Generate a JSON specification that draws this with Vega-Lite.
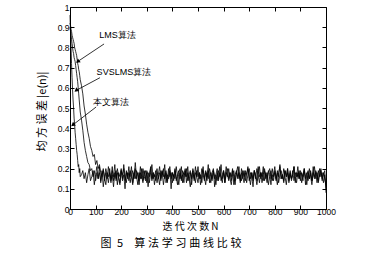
{
  "$schema": "https://vega.github.io/schema/vega-lite/v6.json",
  "width": 256,
  "height": 202,
  "autosize": "none",
  "padding": {"left": 70, "top": 7, "right": 46, "bottom": 45},
  "background": "white",
  "config": {
    "view": {"stroke": "black", "strokeWidth": 1},
    "axis": {
      "grid": false,
      "domainColor": "black",
      "tickColor": "black",
      "labelColor": "black",
      "labelFont": "Liberation Sans",
      "labelFontSize": 8.5,
      "labelOverlap": false,
      "labelFlush": false,
      "titleColor": "black",
      "titleFont": "Noto Sans CJK SC",
      "titleFontSize": 10,
      "titleFontWeight": "normal",
      "tickSize": -4
    }
  },
  "title": {
    "text": "图\u20025\u2003算\u2005法\u2005学\u2005习\u2005曲\u2005线\u2005比\u2005较",
    "orient": "bottom",
    "anchor": "middle",
    "font": "Noto Sans CJK SC",
    "fontSize": 11,
    "fontWeight": "normal",
    "color": "black",
    "offset": 7,
    "dx": -27
  },
  "datasets": {
    "curves": [
      {"n":0,"a":0.92,"b":0.90,"c":0.96},
      {"n":2,"a":0.91,"b":0.88,"c":0.88},
      {"n":4,"a":0.89,"b":0.86,"c":0.80},
      {"n":6,"a":0.88,"b":0.84,"c":0.72},
      {"n":8,"a":0.86,"b":0.82,"c":0.65},
      {"n":10,"a":0.85,"b":0.80,"c":0.59},
      {"n":12,"a":0.84,"b":0.78,"c":0.54},
      {"n":14,"a":0.83,"b":0.77,"c":0.50},
      {"n":16,"a":0.82,"b":0.75,"c":0.45},
      {"n":18,"a":0.80,"b":0.74,"c":0.42},
      {"n":20,"a":0.79,"b":0.73,"c":0.38},
      {"n":22,"a":0.78,"b":0.71,"c":0.35},
      {"n":24,"a":0.77,"b":0.69,"c":0.32},
      {"n":26,"a":0.76,"b":0.67,"c":0.29},
      {"n":28,"a":0.74,"b":0.65,"c":0.27},
      {"n":30,"a":0.72,"b":0.63,"c":0.24},
      {"n":32,"a":0.71,"b":0.60,"c":0.21},
      {"n":34,"a":0.69,"b":0.57,"c":0.22},
      {"n":36,"a":0.68,"b":0.54,"c":0.18},
      {"n":38,"a":0.66,"b":0.51,"c":0.20},
      {"n":40,"a":0.64,"b":0.48,"c":0.16},
      {"n":45,"a":0.61,"b":0.44,"c":0.17},
      {"n":50,"a":0.57,"b":0.39,"c":0.19},
      {"n":55,"a":0.51,"b":0.33,"c":0.15},
      {"n":60,"a":0.47,"b":0.29,"c":0.18},
      {"n":65,"a":0.42,"b":0.26,"c":0.13},
      {"n":70,"a":0.38,"b":0.23,"c":0.17},
      {"n":75,"a":0.35,"b":0.22,"c":0.20},
      {"n":80,"a":0.31,"b":0.19,"c":0.14},
      {"n":85,"a":0.29,"b":0.20,"c":0.16},
      {"n":90,"a":0.26,"b":0.16,"c":0.19},
      {"n":95,"a":0.27,"b":0.19,"c":0.12},
      {"n":100,"a":0.22,"b":0.14,"c":0.17},
      {"n":105,"a":0.24,"b":0.18,"c":0.21},
      {"n":110,"a":0.20,"b":0.15,"c":0.15},
      {"n":115,"a":0.22,"b":0.21,"c":0.18},
      {"n":120,"a":0.18,"b":0.13,"c":0.14},
      {"n":125,"a":0.16,"b":0.17,"c":0.19},
      {"n":130,"a":0.20,"b":0.19,"c":0.11},
      {"n":135,"a":0.14,"b":0.15,"c":0.16},
      {"n":140,"a":0.18,"b":0.12,"c":0.20},
      {"n":145,"a":0.15,"b":0.18,"c":0.17},
      {"n":150,"a":0.21,"b":0.16,"c":0.13},
      {"n":155,"a":0.17,"b":0.20,"c":0.18},
      {"n":160,"a":0.13,"b":0.14,"c":0.15},
      {"n":165,"a":0.19,"b":0.17,"c":0.21},
      {"n":170,"a":0.16,"b":0.11,"c":0.14},
      {"n":175,"a":0.22,"b":0.18,"c":0.17},
      {"n":180,"a":0.14,"b":0.15,"c":0.19},
      {"n":185,"a":0.18,"b":0.20,"c":0.12},
      {"n":190,"a":0.15,"b":0.16,"c":0.18},
      {"n":195,"a":0.12,"b":0.13,"c":0.16},
      {"n":200,"a":0.19,"b":0.19,"c":0.20},
      {"n":205,"a":0.17,"b":0.15,"c":0.14},
      {"n":210,"a":0.20,"b":0.22,"c":0.17},
      {"n":215,"a":0.14,"b":0.16,"c":0.10},
      {"n":220,"a":0.18,"b":0.13,"c":0.19},
      {"n":225,"a":0.16,"b":0.18,"c":0.15},
      {"n":230,"a":0.21,"b":0.14,"c":0.18},
      {"n":235,"a":0.13,"b":0.19,"c":0.16},
      {"n":240,"a":0.17,"b":0.16,"c":0.21},
      {"n":245,"a":0.19,"b":0.12,"c":0.13},
      {"n":250,"a":0.15,"b":0.17,"c":0.18},
      {"n":255,"a":0.23,"b":0.20,"c":0.15},
      {"n":260,"a":0.16,"b":0.15,"c":0.19},
      {"n":265,"a":0.12,"b":0.18,"c":0.17},
      {"n":270,"a":0.18,"b":0.14,"c":0.12},
      {"n":275,"a":0.15,"b":0.21,"c":0.18},
      {"n":280,"a":0.20,"b":0.16,"c":0.15},
      {"n":285,"a":0.14,"b":0.13,"c":0.20},
      {"n":290,"a":0.17,"b":0.19,"c":0.16},
      {"n":295,"a":0.19,"b":0.15,"c":0.14},
      {"n":300,"a":0.13,"b":0.18,"c":0.19},
      {"n":305,"a":0.18,"b":0.11,"c":0.17},
      {"n":310,"a":0.16,"b":0.17,"c":0.13},
      {"n":315,"a":0.21,"b":0.20,"c":0.18},
      {"n":320,"a":0.15,"b":0.14,"c":0.22},
      {"n":325,"a":0.18,"b":0.18,"c":0.15},
      {"n":330,"a":0.12,"b":0.16,"c":0.17},
      {"n":335,"a":0.17,"b":0.19,"c":0.14},
      {"n":340,"a":0.20,"b":0.13,"c":0.18},
      {"n":345,"a":0.15,"b":0.17,"c":0.16},
      {"n":350,"a":0.18,"b":0.21,"c":0.12},
      {"n":355,"a":0.14,"b":0.15,"c":0.19},
      {"n":360,"a":0.19,"b":0.18,"c":0.17},
      {"n":365,"a":0.16,"b":0.12,"c":0.20},
      {"n":370,"a":0.22,"b":0.17,"c":0.15},
      {"n":375,"a":0.13,"b":0.19,"c":0.18},
      {"n":380,"a":0.17,"b":0.14,"c":0.13},
      {"n":385,"a":0.15,"b":0.20,"c":0.17},
      {"n":390,"a":0.19,"b":0.16,"c":0.21},
      {"n":395,"a":0.10,"b":0.18,"c":0.15},
      {"n":400,"a":0.18,"b":0.13,"c":0.18},
      {"n":405,"a":0.16,"b":0.17,"c":0.14},
      {"n":410,"a":0.20,"b":0.15,"c":0.19},
      {"n":415,"a":0.14,"b":0.21,"c":0.16},
      {"n":420,"a":0.17,"b":0.16,"c":0.12},
      {"n":425,"a":0.19,"b":0.12,"c":0.18},
      {"n":430,"a":0.15,"b":0.18,"c":0.20},
      {"n":435,"a":0.21,"b":0.14,"c":0.15},
      {"n":440,"a":0.13,"b":0.19,"c":0.17},
      {"n":445,"a":0.18,"b":0.17,"c":0.13},
      {"n":450,"a":0.16,"b":0.20,"c":0.19},
      {"n":455,"a":0.20,"b":0.13,"c":0.16},
      {"n":460,"a":0.14,"b":0.18,"c":0.21},
      {"n":465,"a":0.17,"b":0.15,"c":0.14},
      {"n":470,"a":0.19,"b":0.11,"c":0.18},
      {"n":475,"a":0.12,"b":0.17,"c":0.15},
      {"n":480,"a":0.18,"b":0.19,"c":0.20},
      {"n":485,"a":0.15,"b":0.14,"c":0.17},
      {"n":490,"a":0.21,"b":0.18,"c":0.13},
      {"n":495,"a":0.16,"b":0.16,"c":0.19},
      {"n":500,"a":0.13,"b":0.21,"c":0.16},
      {"n":505,"a":0.18,"b":0.15,"c":0.18},
      {"n":510,"a":0.15,"b":0.17,"c":0.12},
      {"n":515,"a":0.20,"b":0.13,"c":0.17},
      {"n":520,"a":0.17,"b":0.19,"c":0.21},
      {"n":525,"a":0.14,"b":0.16,"c":0.15},
      {"n":530,"a":0.19,"b":0.12,"c":0.18},
      {"n":535,"a":0.16,"b":0.18,"c":0.14},
      {"n":540,"a":0.22,"b":0.15,"c":0.19},
      {"n":545,"a":0.13,"b":0.20,"c":0.16},
      {"n":550,"a":0.18,"b":0.17,"c":0.13},
      {"n":555,"a":0.15,"b":0.14,"c":0.18},
      {"n":560,"a":0.19,"b":0.19,"c":0.20},
      {"n":565,"a":0.11,"b":0.16,"c":0.15},
      {"n":570,"a":0.17,"b":0.12,"c":0.17},
      {"n":575,"a":0.20,"b":0.18,"c":0.14},
      {"n":580,"a":0.14,"b":0.15,"c":0.19},
      {"n":585,"a":0.18,"b":0.21,"c":0.16},
      {"n":590,"a":0.16,"b":0.14,"c":0.22},
      {"n":595,"a":0.13,"b":0.17,"c":0.15},
      {"n":600,"a":0.19,"b":0.19,"c":0.18},
      {"n":605,"a":0.15,"b":0.13,"c":0.13},
      {"n":610,"a":0.21,"b":0.18,"c":0.17},
      {"n":615,"a":0.17,"b":0.16,"c":0.20},
      {"n":620,"a":0.14,"b":0.20,"c":0.15},
      {"n":625,"a":0.18,"b":0.15,"c":0.18},
      {"n":630,"a":0.16,"b":0.12,"c":0.14},
      {"n":635,"a":0.20,"b":0.17,"c":0.19},
      {"n":640,"a":0.12,"b":0.19,"c":0.16},
      {"n":645,"a":0.17,"b":0.14,"c":0.12},
      {"n":650,"a":0.19,"b":0.18,"c":0.18},
      {"n":655,"a":0.15,"b":0.16,"c":0.21},
      {"n":660,"a":0.18,"b":0.21,"c":0.15},
      {"n":665,"a":0.14,"b":0.13,"c":0.17},
      {"n":670,"a":0.20,"b":0.18,"c":0.14},
      {"n":675,"a":0.16,"b":0.15,"c":0.19},
      {"n":680,"a":0.13,"b":0.19,"c":0.16},
      {"n":685,"a":0.19,"b":0.14,"c":0.18},
      {"n":690,"a":0.17,"b":0.17,"c":0.13},
      {"n":695,"a":0.21,"b":0.20,"c":0.17},
      {"n":700,"a":0.14,"b":0.16,"c":0.20},
      {"n":705,"a":0.18,"b":0.12,"c":0.15},
      {"n":710,"a":0.16,"b":0.18,"c":0.18},
      {"n":715,"a":0.11,"b":0.15,"c":0.14},
      {"n":720,"a":0.19,"b":0.19,"c":0.19},
      {"n":725,"a":0.15,"b":0.17,"c":0.16},
      {"n":730,"a":0.20,"b":0.14,"c":0.12},
      {"n":735,"a":0.17,"b":0.21,"c":0.17},
      {"n":740,"a":0.13,"b":0.16,"c":0.21},
      {"n":745,"a":0.18,"b":0.18,"c":0.15},
      {"n":750,"a":0.16,"b":0.13,"c":0.18},
      {"n":755,"a":0.21,"b":0.17,"c":0.14},
      {"n":760,"a":0.14,"b":0.20,"c":0.19},
      {"n":765,"a":0.18,"b":0.15,"c":0.16},
      {"n":770,"a":0.15,"b":0.18,"c":0.13},
      {"n":775,"a":0.19,"b":0.12,"c":0.18},
      {"n":780,"a":0.17,"b":0.16,"c":0.20},
      {"n":785,"a":0.12,"b":0.19,"c":0.15},
      {"n":790,"a":0.20,"b":0.14,"c":0.17},
      {"n":795,"a":0.16,"b":0.17,"c":0.14},
      {"n":800,"a":0.18,"b":0.21,"c":0.19},
      {"n":805,"a":0.14,"b":0.15,"c":0.16},
      {"n":810,"a":0.19,"b":0.18,"c":0.12},
      {"n":815,"a":0.16,"b":0.13,"c":0.18},
      {"n":820,"a":0.22,"b":0.17,"c":0.21},
      {"n":825,"a":0.15,"b":0.19,"c":0.15},
      {"n":830,"a":0.17,"b":0.15,"c":0.17},
      {"n":835,"a":0.13,"b":0.20,"c":0.14},
      {"n":840,"a":0.19,"b":0.16,"c":0.19},
      {"n":845,"a":0.16,"b":0.12,"c":0.16},
      {"n":850,"a":0.20,"b":0.18,"c":0.20},
      {"n":855,"a":0.14,"b":0.15,"c":0.13},
      {"n":860,"a":0.18,"b":0.19,"c":0.17},
      {"n":865,"a":0.15,"b":0.14,"c":0.15},
      {"n":870,"a":0.17,"b":0.17,"c":0.19},
      {"n":875,"a":0.21,"b":0.21,"c":0.14},
      {"n":880,"a":0.13,"b":0.16,"c":0.18},
      {"n":885,"a":0.18,"b":0.13,"c":0.16},
      {"n":890,"a":0.16,"b":0.18,"c":0.21},
      {"n":895,"a":0.19,"b":0.15,"c":0.15},
      {"n":900,"a":0.14,"b":0.19,"c":0.18},
      {"n":905,"a":0.18,"b":0.17,"c":0.13},
      {"n":910,"a":0.16,"b":0.14,"c":0.17},
      {"n":915,"a":0.20,"b":0.20,"c":0.19},
      {"n":920,"a":0.12,"b":0.16,"c":0.15},
      {"n":925,"a":0.17,"b":0.12,"c":0.18},
      {"n":930,"a":0.19,"b":0.18,"c":0.14},
      {"n":935,"a":0.15,"b":0.15,"c":0.20},
      {"n":940,"a":0.18,"b":0.19,"c":0.16},
      {"n":945,"a":0.14,"b":0.14,"c":0.12},
      {"n":950,"a":0.21,"b":0.17,"c":0.18},
      {"n":955,"a":0.16,"b":0.21,"c":0.15},
      {"n":960,"a":0.18,"b":0.15,"c":0.19},
      {"n":965,"a":0.13,"b":0.18,"c":0.17},
      {"n":970,"a":0.19,"b":0.13,"c":0.14},
      {"n":975,"a":0.16,"b":0.17,"c":0.20},
      {"n":980,"a":0.20,"b":0.19,"c":0.16},
      {"n":985,"a":0.15,"b":0.14,"c":0.18},
      {"n":990,"a":0.17,"b":0.18,"c":0.13},
      {"n":995,"a":0.19,"b":0.15,"c":0.17},
      {"n":1000,"a":0.08,"b":0.12,"c":0.10}
    ],
    "notes": [
      {"label":"LMS算法","tx":114,"ty":0.86,"x1":133,"y1":0.817,"x2":30,"y2":0.73},
      {"label":"SVSLMS算法","tx":104,"ty":0.68,"x1":117,"y1":0.65,"x2":24,"y2":0.587},
      {"label":"本文算法","tx":91,"ty":0.53,"x1":102,"y1":0.505,"x2":11,"y2":0.416}
    ]
  },
  "resolve": {"axis": {"x": "independent", "y": "independent"}},
  "layer": [
    {
      "data": {"name": "curves"},
      "transform": [{"fold": ["a", "b", "c"], "as": ["series", "v"]}],
      "mark": {"type": "line", "color": "black", "strokeWidth": 0.8},
      "encoding": {
        "x": {"field": "n", "type": "quantitative", "scale": {"domain": [0, 1000], "nice": false},
              "axis": {"orient": "bottom", "values": [0,100,200,300,400,500,600,700,800,900,1000], "format": "d", "labelPadding": 2, "title": "迭 代 次 数 N", "titleX": 120, "titleY": 17, "titleBaseline": "middle", "titleAnchor": null}},
        "y": {"field": "v", "type": "quantitative", "scale": {"domain": [0, 1], "nice": false},
              "axis": {"orient": "left", "values": [0,0.1,0.2,0.3,0.4,0.5,0.6,0.7,0.8,0.9,1], "format": "~g", "labelPadding": 5, "title": "均 方 误 差 |e(n)|", "titleFontSize": 11, "titleX": -28, "titleY": 104, "titleBaseline": "middle", "titleAnchor": null}},
        "detail": {"field": "series"}
      }
    },
    {
      "data": {"name": "curves"},
      "mark": {"type": "point", "opacity": 0},
      "encoding": {
        "x": {"field": "n", "type": "quantitative", "axis": {"orient": "top", "values": [0,100,200,300,400,500,600,700,800,900,1000], "labels": false, "title": null, "domain": false}},
        "y": {"field": "a", "type": "quantitative", "axis": {"orient": "right", "values": [0,0.1,0.2,0.3,0.4,0.5,0.6,0.7,0.8,0.9,1], "labels": false, "title": null, "domain": false}}
      }
    },
    {
      "data": {"name": "notes"},
      "mark": {"type": "rule", "color": "black", "strokeWidth": 0.8},
      "encoding": {
        "x": {"field": "x1", "type": "quantitative", "axis": null},
        "y": {"field": "y1", "type": "quantitative", "axis": null},
        "x2": {"field": "x2"},
        "y2": {"field": "y2"}
      }
    },
    {
      "data": {"name": "notes"},
      "mark": {"type": "point", "shape": "triangle-up", "filled": true, "color": "black", "size": 22, "angle": 232, "opacity": 1},
      "encoding": {
        "x": {"field": "x2", "type": "quantitative", "axis": null},
        "y": {"field": "y2", "type": "quantitative", "axis": null}
      }
    },
    {
      "data": {"name": "notes"},
      "mark": {"type": "text", "align": "left", "baseline": "middle", "font": "Liberation Sans", "fontSize": 9, "color": "black"},
      "encoding": {
        "x": {"field": "tx", "type": "quantitative", "axis": null},
        "y": {"field": "ty", "type": "quantitative", "axis": null},
        "text": {"field": "label"}
      }
    }
  ]
}
